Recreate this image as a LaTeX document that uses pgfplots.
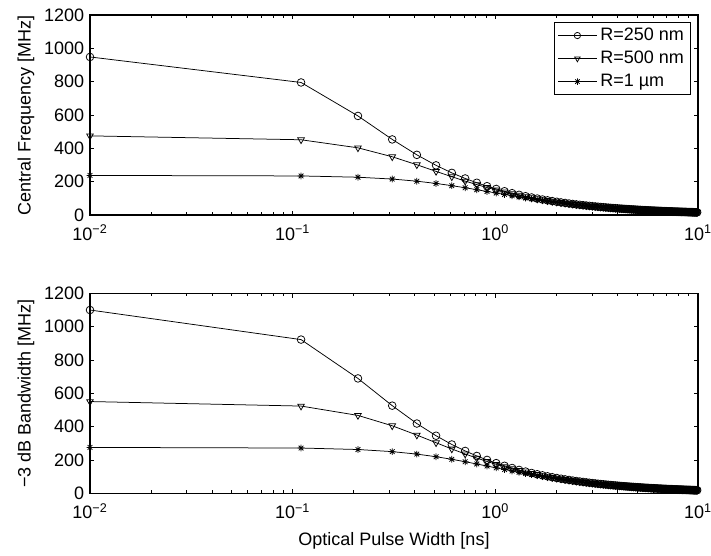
\documentclass[border=0pt]{standalone}
\usepackage{fontspec}
\setmainfont{Liberation Sans}
\usepackage{pgfplots}
\usepackage{pgfplotstable}
\pgfplotsset{compat=1.18}

% matlab-style '*' : plus and cross overlaid
\pgfdeclareplotmark{mstar}{%
  \pgfpathmoveto{\pgfqpoint{-\pgfplotmarksize}{0pt}}%
  \pgfpathlineto{\pgfqpoint{\pgfplotmarksize}{0pt}}%
  \pgfpathmoveto{\pgfqpoint{0pt}{-\pgfplotmarksize}}%
  \pgfpathlineto{\pgfqpoint{0pt}{\pgfplotmarksize}}%
  \pgfpathmoveto{\pgfqpoint{-0.707\pgfplotmarksize}{-0.707\pgfplotmarksize}}%
  \pgfpathlineto{\pgfqpoint{0.707\pgfplotmarksize}{0.707\pgfplotmarksize}}%
  \pgfpathmoveto{\pgfqpoint{-0.707\pgfplotmarksize}{0.707\pgfplotmarksize}}%
  \pgfpathlineto{\pgfqpoint{0.707\pgfplotmarksize}{-0.707\pgfplotmarksize}}%
  \pgfusepathqstroke}

% tau [ns], central frequency c1..c3 and -3 dB bandwidth b1..b3 [MHz]
\pgfplotstableread{
tau  c1    c2    c3    b1     b2    b3
0.01 948.3 474.8 237.5 1100.0 550.8 275.5
0.11 795.3 451.5 234.4 922.5 523.7 271.9
0.21 594.4 403.1 226.7 689.5 467.6 263.0
0.31 453.5 349.5 215.8 526.1 405.4 250.3
0.41 361.0 301.5 202.9 418.8 349.7 235.4
0.51 297.9 261.8 189.4 345.6 303.7 219.7
0.61 252.8 229.6 176.1 293.2 266.3 204.3
0.71 219.3 203.6 163.5 254.4 236.2 189.7
0.81 193.4 182.4 151.9 224.3 211.6 176.2
0.91 172.9 164.9 141.3 200.6 191.3 163.9
1.01 156.3 150.3 131.8 181.3 174.3 152.9
1.11 142.5 138.1 123.2 165.3 160.2 142.9
1.21 131.0 127.5 115.5 152.0 147.9 134.0
1.31 121.1 118.4 108.6 140.5 137.3 126.0
1.41 112.7 110.4 102.4 130.7 128.1 118.8
1.51 105.3 103.5 96.8 122.1 120.1 112.3
1.61 98.8 97.3 91.7 114.6 112.9 106.4
1.71 93.1 91.8 87.1 108.0 106.5 101.0
1.81 88.0 86.9 82.8 102.1 100.8 96.0
1.91 83.4 82.5 79.0 96.7 95.7 91.6
2.01 79.3 78.5 75.5 92.0 91.1 87.6
2.11 75.6 74.9 72.2 87.7 86.9 83.8
2.21 72.2 71.6 69.3 83.8 83.1 80.4
2.31 69.1 68.6 66.5 80.2 79.6 77.1
2.41 66.2 65.8 63.9 76.8 76.3 74.1
2.51 63.6 63.2 61.6 73.8 73.3 71.5
2.61 61.2 60.8 59.4 71.0 70.5 68.9
2.71 59.0 58.6 57.3 68.4 68.0 66.5
2.81 56.9 56.5 55.4 66.0 65.5 64.3
2.91 54.9 54.6 53.6 63.7 63.3 62.2
3.01 53.1 52.8 51.9 61.6 61.2 60.2
3.11 51.4 51.2 50.3 59.6 59.4 58.3
3.21 49.8 49.6 48.8 57.8 57.5 56.6
3.31 48.3 48.1 47.4 56.0 55.8 55.0
3.41 46.9 46.7 46.0 54.4 54.2 53.4
3.51 45.6 45.4 44.8 52.9 52.7 52.0
3.61 44.3 44.1 43.6 51.4 51.2 50.6
3.71 43.1 43.0 42.4 50.0 49.9 49.2
3.81 42.0 41.8 41.4 48.7 48.5 48.0
3.91 40.9 40.8 40.3 47.4 47.3 46.7
4.01 39.9 39.8 39.4 46.3 46.2 45.7
4.11 38.9 38.8 38.4 45.1 45.0 44.5
4.21 38.0 37.9 37.5 44.1 44.0 43.5
4.31 37.1 37.0 36.7 43.0 42.9 42.6
4.41 36.3 36.2 35.9 42.1 42.0 41.6
4.51 35.5 35.4 35.1 41.2 41.1 40.7
4.61 34.7 34.6 34.3 40.3 40.1 39.8
4.71 34.0 33.9 33.6 39.4 39.3 39.0
4.81 33.3 33.2 32.9 38.6 38.5 38.2
4.91 32.6 32.5 32.3 37.8 37.7 37.5
5.01 31.9 31.9 31.7 37.0 37.0 36.8
5.11 31.3 31.3 31.0 36.3 36.3 36.0
5.21 30.7 30.7 30.5 35.6 35.6 35.4
5.31 30.1 30.1 29.9 34.9 34.9 34.7
5.41 29.6 29.5 29.3 34.3 34.2 34.0
5.51 29.0 29.0 28.8 33.6 33.6 33.4
5.61 28.5 28.5 28.3 33.1 33.1 32.8
5.71 28.0 28.0 27.8 32.5 32.5 32.2
5.81 27.5 27.5 27.4 31.9 31.9 31.8
5.91 27.1 27.0 26.9 31.4 31.3 31.2
6.01 26.6 26.6 26.5 30.9 30.9 30.7
6.11 26.2 26.2 26.0 30.4 30.4 30.2
6.21 25.8 25.7 25.6 29.9 29.8 29.7
6.31 25.4 25.3 25.2 29.5 29.3 29.2
6.41 25.0 24.9 24.8 29.0 28.9 28.8
6.51 24.6 24.6 24.5 28.5 28.5 28.4
6.61 24.2 24.2 24.1 28.1 28.1 28.0
6.71 23.8 23.8 23.7 27.6 27.6 27.5
6.81 23.5 23.5 23.4 27.3 27.3 27.1
6.91 23.1 23.1 23.0 26.8 26.8 26.7
7.01 22.8 22.8 22.7 26.4 26.4 26.3
7.11 22.5 22.5 22.4 26.1 26.1 26.0
7.21 22.2 22.2 22.1 25.8 25.8 25.6
7.31 21.9 21.9 21.8 25.4 25.4 25.3
7.41 21.6 21.6 21.5 25.1 25.1 24.9
7.51 21.3 21.3 21.2 24.7 24.7 24.6
7.61 21.0 21.0 20.9 24.4 24.4 24.2
7.71 20.8 20.7 20.7 24.1 24.0 24.0
7.81 20.5 20.5 20.4 23.8 23.8 23.7
7.91 20.2 20.2 20.2 23.4 23.4 23.4
8.01 20.0 20.0 19.9 23.2 23.2 23.1
8.11 19.7 19.7 19.7 22.9 22.9 22.9
8.21 19.5 19.5 19.4 22.6 22.6 22.5
8.31 19.3 19.2 19.2 22.4 22.3 22.3
8.41 19.0 19.0 19.0 22.0 22.0 22.0
8.51 18.8 18.8 18.7 21.8 21.8 21.7
8.61 18.6 18.6 18.5 21.6 21.6 21.5
8.71 18.4 18.4 18.3 21.3 21.3 21.2
8.81 18.2 18.2 18.1 21.1 21.1 21.0
8.91 18.0 18.0 17.9 20.9 20.9 20.8
9.01 17.8 17.8 17.7 20.6 20.6 20.5
9.11 17.6 17.6 17.5 20.4 20.4 20.3
9.21 17.4 17.4 17.3 20.2 20.2 20.1
9.31 17.2 17.2 17.1 20.0 20.0 19.8
9.41 17.0 17.0 17.0 19.7 19.7 19.7
9.51 16.8 16.8 16.8 19.5 19.5 19.5
9.61 16.6 16.6 16.6 19.3 19.3 19.3
9.71 16.5 16.5 16.4 19.1 19.1 19.0
9.81 16.3 16.3 16.3 18.9 18.9 18.9
9.91 16.1 16.1 16.1 18.7 18.7 18.7
}\pulsedata

\pgfplotsset{
  legend image code/.code={%
    \draw[#1, mark=none] (0pt,0pt) -- (23pt,0pt);
    \draw[#1, only marks, mark size=1.9pt, fill=white] plot coordinates {(11.5pt,0pt)};},
}

\begin{document}
\begin{tikzpicture}
\useasboundingbox (0,0) rectangle (426.6pt,-333pt);

\begin{axis}[
    scale only axis,
    width=364.8pt, height=120pt,
    at={(54pt,-129pt)}, anchor=south west,
    xmode=log, xmin=0.01, xmax=10,
    ymin=0, ymax=1200,
    xtick={0.01,0.1,1,10},
    xticklabels={10\textsuperscript{−2},10\textsuperscript{−1},10\textsuperscript{0},10\textsuperscript{1}},
    ytick={0,200,400,600,800,1000,1200},
    yticklabels={0,200,400,600,800,1000,1200},
    font=\fontsize{10.8}{13}\selectfont,
    xticklabel style={yshift=-2.5pt},
    ylabel style={yshift=-1pt},
    tick align=inside,
    major tick length=2.6pt, minor tick length=1.8pt,
    tick style={black, line width=0.5pt},
    axis line style={line width=0.8pt},
    every axis plot/.append style={black, line width=0.45pt, mark size=2.3pt},
    ylabel={Central Frequency [MHz]},
    legend style={at={(1,1)}, anchor=north east, xshift=-4.2pt, yshift=-4pt,
      draw=black, line width=0.6pt, font=\fontsize{10.8}{13}\selectfont,
      row sep=0.8pt, inner xsep=2pt, inner ysep=1.5pt},
    legend cell align=left,
  ]
\addplot[mark=o] table[x=tau, y=c1] {\pulsedata};
\addplot[mark=triangle, mark options={rotate=180}] table[x=tau, y=c2] {\pulsedata};
\addplot[mark=mstar, mark size=2pt] table[x=tau, y=c3] {\pulsedata};
\legend{R=250 nm, R=500 nm, R=1 µm}
\end{axis}

\begin{axis}[
    scale only axis,
    width=364.8pt, height=120pt,
    at={(54pt,-296pt)}, anchor=south west,
    xmode=log, xmin=0.01, xmax=10,
    ymin=0, ymax=1200,
    xtick={0.01,0.1,1,10},
    xticklabels={10\textsuperscript{−2},10\textsuperscript{−1},10\textsuperscript{0},10\textsuperscript{1}},
    ytick={0,200,400,600,800,1000,1200},
    yticklabels={0,200,400,600,800,1000,1200},
    font=\fontsize{10.8}{13}\selectfont,
    xticklabel style={yshift=-2.5pt},
    ylabel style={yshift=-1pt},
    tick align=inside,
    major tick length=2.6pt, minor tick length=1.8pt,
    tick style={black, line width=0.5pt},
    axis line style={line width=0.8pt},
    every axis plot/.append style={black, line width=0.45pt, mark size=2.3pt},
    ylabel={−3 dB Bandwidth [MHz]},
    xlabel={Optical Pulse Width [ns]},
    xlabel style={yshift=-1pt},
  ]
\addplot[mark=o] table[x=tau, y=b1] {\pulsedata};
\addplot[mark=triangle, mark options={rotate=180}] table[x=tau, y=b2] {\pulsedata};
\addplot[mark=mstar, mark size=2pt] table[x=tau, y=b3] {\pulsedata};
\end{axis}
\end{tikzpicture}
\end{document}
